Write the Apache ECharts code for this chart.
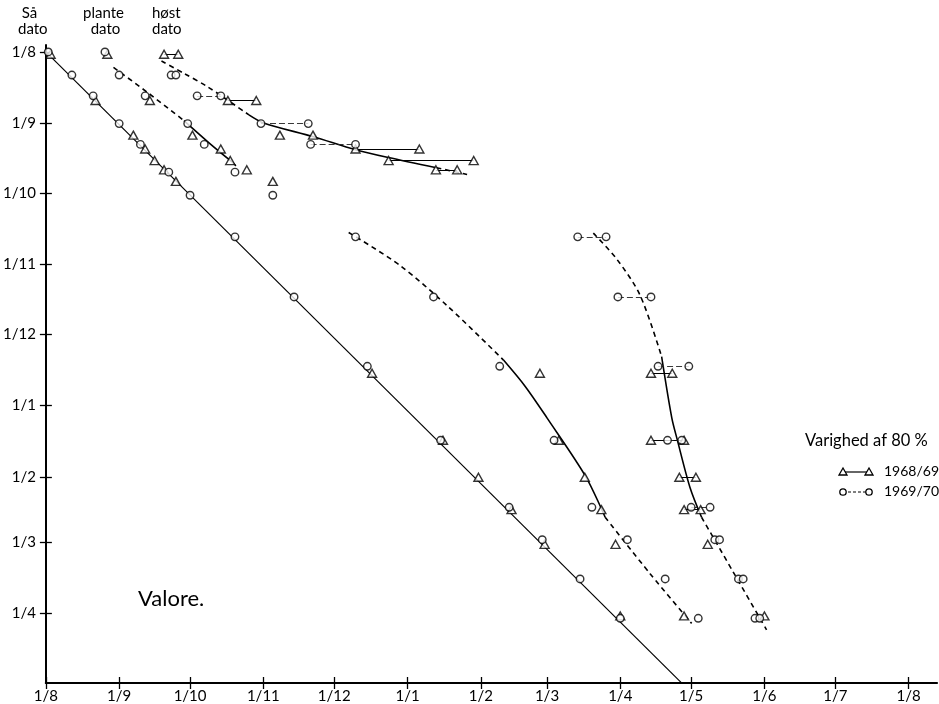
<!DOCTYPE html>
<html><head><meta charset="utf-8">
<script src="https://cdn.jsdelivr.net/npm/echarts@6/dist/echarts.min.js"></script>
<style>html,body{margin:0;padding:0;background:#fff}#c{width:939px;height:704px}</style>
</head><body><div id="c"></div>
<script>
// All dates are day numbers counted from 1 Aug 1968 (both axes).
const monthStarts = [0, 31, 61, 92, 122, 153, 184, 212, 243, 273, 304, 334, 365];
const monthLabels = ['1/8','1/9','1/10','1/11','1/12','1/1','1/2','1/3','1/4','1/5','1/6','1/7','1/8'];
const yTickDays = [0, 31, 61, 92, 122, 153, 184, 212, 243];

// 1968/69 (triangles): sowing date (row), sowing mark x, planting date, harvest (80 % duration)
const sow6869 = [1, 21, 36, 42, 47, 51, 56, 139, 168, 184, 198, 213, 244];
const sowX6869 = [2, 21, 37, 42, 46, 50, 55, 138, 168, 183, 197, 211, 243];
const plant6869 = [26, 44, 62, 74, 78, 85, 96, 209, 217, 228, 235, 241, 270];
const harvest6869 = [[50,56],[77,89],[99,113],[131,158],[145,181],[165,174],[],[256,265],[256,270],[268,275],[270,277],[280],[304]];
const linked6869 = [1,1,0,1,1,1,0,1,1,1,1,0,0];

// 1969/70 (circles)
const sow6970 = [0, 10, 19, 31, 40, 52, 62, 80, 106, 136, 168, 197, 211, 228, 245];
const sowX6970 = [1, 11, 20, 31, 40, 52, 61, 80, 105, 136, 167, 196, 210, 226, 243];
const plant6970 = [25, 31, 42, 60, 67, 80, 96, 131, 164, 192, 215, 231, 246, 262, 276];
const harvest6970 = [[],[53,55],[64,74],[91,111],[112,131],[],[],[225,237],[242,256],[259,272],[263,269],[273,281],[283,285],[293,295],[300,302]];
const linked6970 = [0,0,1,1,1,0,0,1,1,1,1,1,0,0,0];

// Hand-drawn curves [x, y]
const diagLine = [[0,0],[268.7,272.7]];
const plant1DashA = [[28.6,6.7],[43.1,17.6],[58.4,29.7]];
const plant1Solid = [[58.4,29.7],[69,39.3],[78.9,47.7]];
const plant1DashB = [[78.9,47.7],[81.2,50.1]];
const harv1DashA = [[48.9,3.9],[58.3,9.2],[68.3,15],[76.8,20.8],[85.9,27.2]];
const harv1Solid = [[85.9,27.2],[92.1,30.7],[113.2,36.7],[131,42.3],[144.9,45.7],[165.2,50.1]];
const harv1DashB = [[165.2,50.1],[178.2,53]];
const plant2DashA = [[128.1,78.1],[150,92.5],[170,110],[193.6,133.3]];
const plant2Solid = [[193.6,133.3],[202.8,144.7],[212,158.3],[228.4,183.7],[236.6,201.3]];
const plant2DashB = [[236.6,201.3],[255.6,225.7],[273.2,247.2]];
const harv2DashA = [[231.6,78.4],[241.5,89.6],[251.4,105.3],[260.5,131.8]];
const harv2Solid = [[260.5,131.8],[264.8,158.3],[267.1,167.7],[272.5,188.4],[277.4,201.3]];
const harv2DashB = [[277.4,201.3],[290.8,225],[304.9,250]];

const FONT = 'Lato';
const lab = v => { const i = monthStarts.indexOf(Math.round(v)); return i >= 0 ? monthLabels[i] : ''; };

function points(sow, sowX, plant, harvest) {
  const pts = [];
  sow.forEach((y, i) => {
    pts.push([sowX[i], y]);
    pts.push([plant[i], y]);
    harvest[i].forEach(x => pts.push([x, y]));
  });
  return pts;
}
function ranges(sow, harvest, linked) {
  const out = [];
  sow.forEach((y, i) => { if (linked[i] && harvest[i].length === 2) out.push({coords: [[harvest[i][0], y], [harvest[i][1], y]]}); });
  return out;
}
function curve(data, dashed) {
  return {type: 'line', data, smooth: 0.3, showSymbol: false, symbol: 'none', silent: true, z: 2,
    lineStyle: {color: '#000', width: 1.6, type: dashed ? [5, 4] : 'solid'}};
}

const chart = echarts.init(document.getElementById('c'), null, {renderer: 'canvas'});
const axisCommon = {type: 'value', splitLine: {show: false}};
chart.setOption({
  animation: false,
  backgroundColor: '#fff',
  grid: {left: 45, top: 45, width: 892, height: 641},
  xAxis: [
    Object.assign({}, axisCommon, {min: 0, max: 377, position: 'bottom',
      axisLine: {show: true, onZero: false, lineStyle: {color: '#000', width: 2.2}},
      axisTick: {show: true, customValues: monthStarts, length: 6, lineStyle: {color: '#000', width: 1.3}},
      axisLabel: {customValues: monthStarts, formatter: lab, color: '#000', fontSize: 15, fontFamily: FONT, margin: 6}}),
    Object.assign({}, axisCommon, {min: 0, max: 377, position: 'bottom', offset: 0,
      axisLine: {show: false, onZero: false},
      axisTick: {show: true, inside: true, customValues: monthStarts, length: 6, lineStyle: {color: '#000', width: 1.3}},
      axisLabel: {show: false}})
  ],
  yAxis: [
    Object.assign({}, axisCommon, {min: -3, max: 273, inverse: true, position: 'left',
      axisLine: {show: true, onZero: false, lineStyle: {color: '#000', width: 2}},
      axisTick: {show: true, customValues: yTickDays, length: 6, lineStyle: {color: '#000', width: 1.3}},
      axisLabel: {customValues: yTickDays, formatter: lab, color: '#000', fontSize: 15, fontFamily: FONT, margin: 10}}),
    Object.assign({}, axisCommon, {min: -3, max: 273, inverse: true, position: 'left', offset: 0,
      axisLine: {show: false, onZero: false},
      axisTick: {show: true, inside: true, customValues: yTickDays, length: 6, lineStyle: {color: '#000', width: 1.3}},
      axisLabel: {show: false}})
  ],
  series: [
    {type: 'line', data: diagLine, showSymbol: false, symbol: 'none', silent: true, z: 2,
      lineStyle: {color: '#000', width: 1.2}},
    curve(plant1DashA, true), curve(plant1Solid, false), curve(plant1DashB, true),
    curve(harv1DashA, true), curve(harv1Solid, false), curve(harv1DashB, true),
    curve(plant2DashA, true), curve(plant2Solid, false), curve(plant2DashB, true),
    curve(harv2DashA, true), curve(harv2Solid, false), curve(harv2DashB, true),
    {type: 'lines', coordinateSystem: 'cartesian2d', data: ranges(sow6869, harvest6869, linked6869), silent: true, z: 3,
      lineStyle: {color: '#000', width: 1, type: 'solid', opacity: 1}},
    {type: 'lines', coordinateSystem: 'cartesian2d', data: ranges(sow6970, harvest6970, linked6970), silent: true, z: 3,
      lineStyle: {color: '#222', width: 0.9, type: [6, 3], opacity: 1}},
    {name: '1968/69', type: 'scatter', data: points(sow6869, sowX6869, plant6869, harvest6869), symbol: 'triangle', symbolSize: [9, 8], z: 5,
      itemStyle: {color: '#fff', borderColor: '#000', borderWidth: 1.4}},
    {name: '1969/70', type: 'scatter', data: points(sow6970, sowX6970, plant6970, harvest6970), symbol: 'circle', symbolSize: 7.5, z: 5,
      itemStyle: {color: '#fff', borderColor: '#000', borderWidth: 1.4}}
  ],
  graphic: [
    {type: 'text', left: 18, top: 5, style: {text: ' Så\ndato', font: '15px ' + FONT, fill: '#000', lineHeight: 16}},
    {type: 'text', left: 83, top: 5, style: {text: 'plante\n  dato', font: '15px ' + FONT, fill: '#000', lineHeight: 16}},
    {type: 'text', left: 152, top: 5, style: {text: 'høst\ndato', font: '15px ' + FONT, fill: '#000', lineHeight: 16}},
    {type: 'text', left: 138, top: 588, style: {text: 'Valore.', font: '22px ' + FONT, fill: '#000'}},
    {type: 'text', left: 805, top: 432, style: {text: 'Varighed af 80 %', font: '16.5px ' + FONT, fill: '#000'}},
    {type: 'text', left: 884, top: 464, style: {text: '1968/69', font: '14px ' + FONT, fill: '#000'}},
    {type: 'text', left: 884, top: 484, style: {text: '1969/70', font: '14px ' + FONT, fill: '#000'}},
    {type: 'line', shape: {x1: 843, y1: 472, x2: 869, y2: 472}, style: {stroke: '#000', lineWidth: 1.2}},
    {type: 'polygon', shape: {points: [[843,468],[847,475],[839,475]]}, style: {fill: '#fff', stroke: '#000', lineWidth: 1.3}},
    {type: 'polygon', shape: {points: [[869,468],[873,475],[865,475]]}, style: {fill: '#fff', stroke: '#000', lineWidth: 1.3}},
    {type: 'line', shape: {x1: 843, y1: 492, x2: 869, y2: 492}, style: {stroke: '#000', lineWidth: 1, lineDash: [3, 2]}},
    {type: 'circle', shape: {cx: 843, cy: 492, r: 3.2}, style: {fill: '#fff', stroke: '#000', lineWidth: 1.3}},
    {type: 'circle', shape: {cx: 869, cy: 492, r: 3.2}, style: {fill: '#fff', stroke: '#000', lineWidth: 1.3}}
  ]
});
</script></body></html>
